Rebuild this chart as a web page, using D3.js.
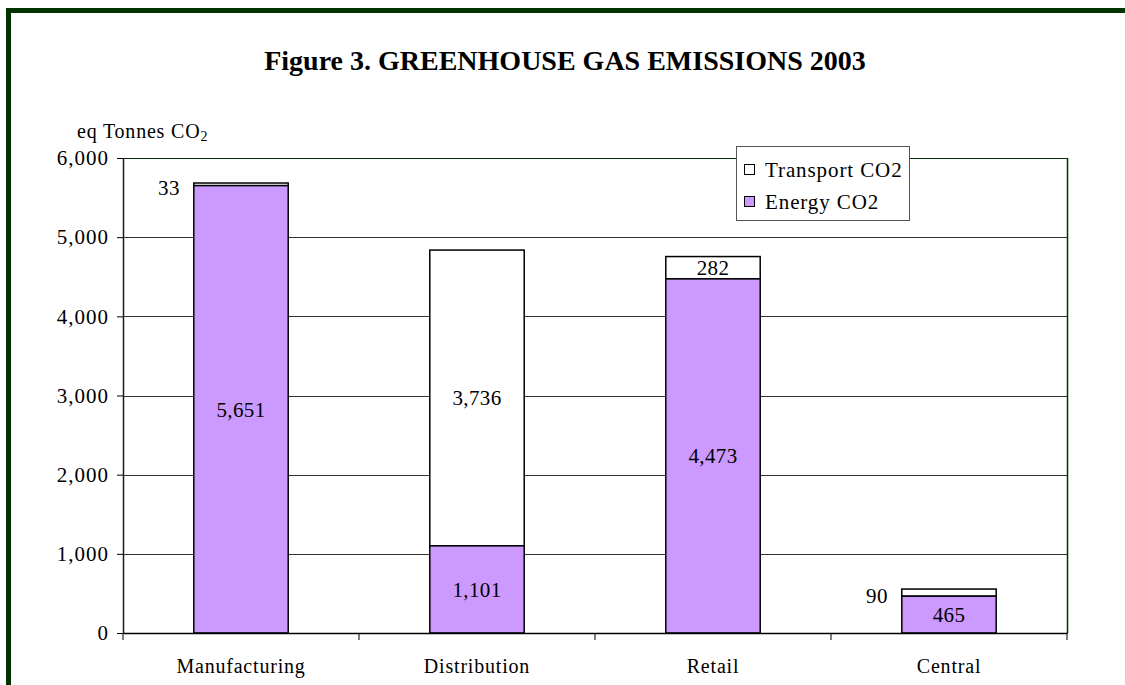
<!DOCTYPE html>
<html><head><meta charset="utf-8">
<script src="https://cdn.jsdelivr.net/npm/d3@7"></script>
<style>body{margin:0;background:#fff}svg{display:block}text{font-family:"Liberation Serif","Times New Roman",serif}</style>
</head><body><svg id="c" width="1125" height="685"></svg>
<script>
const categories = ["Manufacturing","Distribution","Retail","Central"];
const energyCO2 = [5651, 1101, 4473, 465];
const transportCO2 = [33, 3736, 282, 90];
const yTicks = [0,1000,2000,3000,4000,5000,6000];
const seriesNames = ["Transport CO2","Energy CO2"];

const svg = d3.select("#c");
const W=1125,H=685;
const m = {l:123, r:1067, t:158, b:633};
const FF = "Liberation Serif";

svg.append("rect").attr("x",8.5).attr("y",10.5).attr("width",W+20).attr("height",H+20)
  .attr("fill","none").attr("stroke","#003300").attr("stroke-width",5);

svg.append("text").attr("x",565).attr("y",70).attr("text-anchor","middle")
  .attr("font-size",28).attr("font-weight","bold").text("Figure 3. GREENHOUSE GAS EMISSIONS 2003");

const yl = svg.append("text").attr("x",77).attr("y",138).attr("font-size",20).attr("letter-spacing",0.8);
yl.append("tspan").text("eq Tonnes CO");
yl.append("tspan").attr("font-size",14).attr("dy",3).text("2");

const x = d3.scaleBand().domain(categories).range([m.l,m.r]).paddingInner(0.6).paddingOuter(0.3);
const y = d3.scaleLinear().domain([0,6000]).range([m.b,m.t]);

// gridlines
svg.append("g").selectAll("line").data(yTicks.filter(d=>d>0)).join("line")
  .attr("x1",m.l).attr("x2",m.r).attr("y1",d=>Math.round(y(d))+0.5).attr("y2",d=>Math.round(y(d))+0.5)
  .attr("stroke",d=>d===6000?"#003300":"#333").attr("stroke-width",1);
svg.append("line").attr("x1",m.r+0.5).attr("x2",m.r+0.5).attr("y1",m.t).attr("y2",m.b)
  .attr("stroke","#003300").attr("stroke-width",1.5);

const data = categories.map((c,i)=>({c, e:energyCO2[i], t:transportCO2[i]}));
const bars = svg.append("g");
const fmt = d3.format(",");
data.forEach(d=>{
  const x0 = x(d.c), bw = x.bandwidth();
  bars.append("rect").attr("x",x0).attr("width",bw).attr("y",y(d.e+d.t)).attr("height",y(d.e)-y(d.e+d.t))
    .attr("fill","#fff").attr("stroke","#000").attr("stroke-width",1.5);
  bars.append("rect").attr("x",x0).attr("width",bw).attr("y",y(d.e)).attr("height",y(0)-y(d.e))
    .attr("fill","#CC99FF").attr("stroke","#000").attr("stroke-width",1.5);
  bars.append("text").attr("x",x0+bw/2).attr("y",(y(d.e)+y(0))/2).attr("dy","0.35em")
    .attr("text-anchor","middle").attr("font-size",21).attr("letter-spacing",0.4).text(fmt(d.e));
  const small = d.t < 200;
  bars.append("text").attr("x",small? x0-14 : x0+bw/2).attr("y",(y(d.e)+y(d.e+d.t))/2 + (small?3:0)).attr("dy","0.35em")
    .attr("text-anchor",small?"end":"middle").attr("font-size",21).attr("letter-spacing",0.4).text(fmt(d.t));
});

// axes
const ya = svg.append("g").attr("transform",`translate(${m.l},0)`)
  .call(d3.axisLeft(y).tickValues(yTicks).tickFormat(fmt).tickSize(6).tickSizeOuter(0));
ya.select(".domain").attr("stroke","#0a2a0a").attr("stroke-width",1.5);
ya.selectAll(".tick line").attr("stroke","#000");
ya.selectAll("text").attr("font-size",21).attr("font-family",FF).attr("letter-spacing",1).attr("fill","#000").attr("x",-14);

const xa = svg.append("g").attr("transform",`translate(0,${m.b})`)
  .call(d3.axisBottom(x).tickSize(0).tickSizeOuter(0));
xa.select(".domain").attr("stroke","#000").attr("stroke-width",1.5);
xa.selectAll("text").attr("font-size",20).attr("font-family",FF).attr("letter-spacing",0.8).attr("fill","#000").attr("dy","0").attr("y",40);
const bounds = categories.map(c=>x(c)-x.step()*0.3).concat([m.r]);
svg.append("g").selectAll("line").data(bounds).join("line")
  .attr("x1",d=>d).attr("x2",d=>d).attr("y1",m.b).attr("y2",m.b+7).attr("stroke","#000");

// legend
const lg = svg.append("g");
lg.append("rect").attr("x",736.5).attr("y",146.5).attr("width",173).attr("height",74)
  .attr("fill","#fff").attr("stroke","#555").attr("stroke-width",1);
const cols = ["#fff","#CC99FF"];
seriesNames.forEach((s,i)=>{
  lg.append("rect").attr("x",744.5).attr("y",164.5+i*32).attr("width",10).attr("height",10)
    .attr("fill",cols[i]).attr("stroke","#000");
  lg.append("text").attr("x",765).attr("y",170+i*32).attr("dy","0.35em").attr("font-size",21).attr("letter-spacing",0.9).text(s);
});
</script></body></html>
